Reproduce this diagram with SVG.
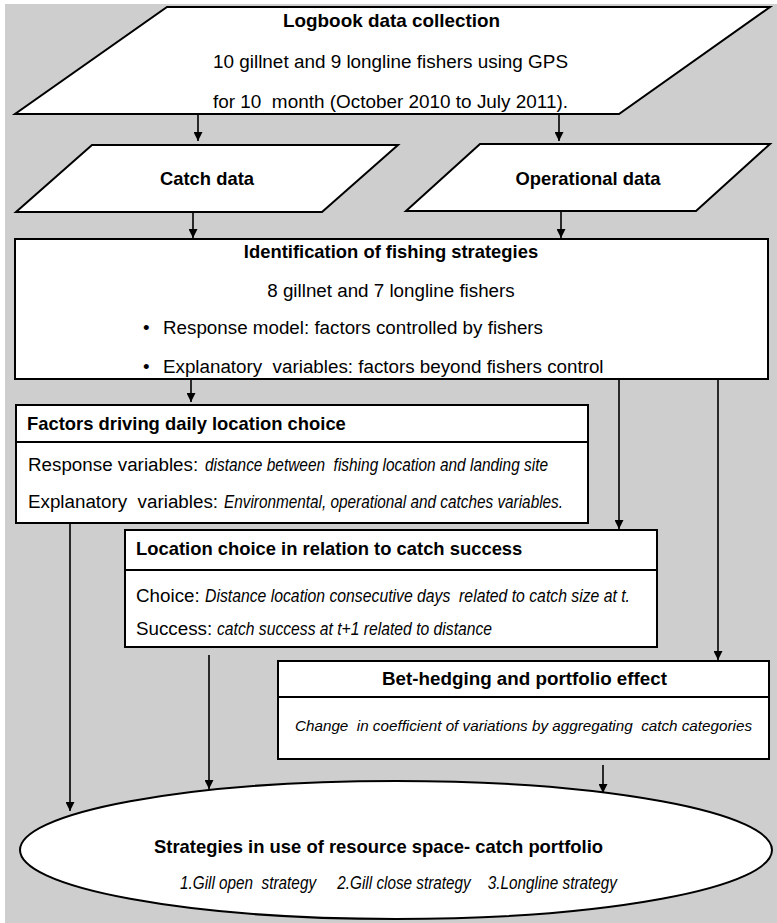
<svg xmlns="http://www.w3.org/2000/svg" width="777" height="923" viewBox="0 0 777 923">
<style>
.bg{fill:#cecece}
.box{fill:#fff;stroke:#000;stroke-width:2}
.ln{fill:none;stroke:#000;stroke-width:1.6;marker-end:url(#ah)}
text{font-family:"Liberation Sans",Arial,sans-serif;font-size:18.8px;fill:#000}
.b{font-weight:bold;font-size:18.4px}
.i{font-style:italic;font-size:18px}
.m{text-anchor:middle}
</style>
<defs>
<marker id="ah" markerUnits="userSpaceOnUse" markerWidth="9" markerHeight="9" refX="9" refY="4.5" orient="auto">
<path d="M0,0 L9,4.5 L0,9 z" fill="#000"/>
</marker>
</defs>
<rect x="0" y="0" width="777" height="923" fill="#fff"/>
<rect class="bg" x="5" y="4" width="772" height="919"/>

<g id="connectors">
<line class="ln" x1="198" y1="114" x2="198" y2="141"/>
<line class="ln" x1="559" y1="114" x2="559" y2="141"/>
<line class="ln" x1="193" y1="212" x2="193" y2="238"/>
<line class="ln" x1="561" y1="211" x2="561" y2="238"/>
<line class="ln" x1="191" y1="379" x2="191" y2="402"/>
<line class="ln" x1="619" y1="379" x2="619" y2="529"/>
<line class="ln" x1="718" y1="376" x2="718" y2="660"/>
<line class="ln" x1="70" y1="523" x2="70" y2="811"/>
<line class="ln" x1="209" y1="655" x2="209" y2="789"/>
<line class="ln" x1="603" y1="765" x2="603" y2="793"/>
</g>

<g id="logbook">
<polygon class="box" points="167,7 770,7 619,114 15,114"/>
<text class="b" x="283" y="27" textLength="217" lengthAdjust="spacingAndGlyphs">Logbook data collection</text>
<text x="213" y="68" textLength="355" lengthAdjust="spacingAndGlyphs">10 gillnet and 9 longline fishers using GPS</text>
<text x="213" y="108" textLength="355" lengthAdjust="spacingAndGlyphs" xml:space="preserve">for 10  month (October 2010 to July 2011).</text>
</g>

<g id="catch">
<polygon class="box" points="92,145 398,145 322,212 16,212"/>
<text class="b m" x="207" y="185">Catch data</text>
</g>

<g id="operational">
<polygon class="box" points="480,144 770,144 696,211 406,211"/>
<text class="b m" x="588" y="185">Operational data</text>
</g>

<g id="identification">
<rect class="box" x="15" y="239" width="753" height="140"/>
<text class="b m" x="391" y="258">Identification of fishing strategies</text>
<text class="m" x="391" y="297">8 gillnet and 7 longline fishers</text>
<text x="143" y="334">•</text>
<text x="163" y="334">Response model: factors controlled by fishers</text>
<text x="143" y="373">•</text>
<text x="163" y="373" xml:space="preserve">Explanatory  variables: factors beyond fishers control</text>
</g>

<g id="factors">
<rect class="box" x="16" y="405" width="572" height="118"/>
<line x1="16" y1="442" x2="588" y2="442" stroke="#000" stroke-width="2"/>
<text class="b" x="27" y="430">Factors driving daily location choice</text>
<text x="28" y="471">Response variables: <tspan class="i" x="205" textLength="343" lengthAdjust="spacingAndGlyphs" xml:space="preserve">distance between  fishing location and landing site</tspan></text>
<text x="28" y="508" xml:space="preserve">Explanatory  variables: <tspan class="i" x="224" textLength="339" lengthAdjust="spacingAndGlyphs">Environmental, operational and catches variables.</tspan></text>
</g>

<g id="location">
<rect class="box" x="125" y="530" width="532" height="117"/>
<line x1="125" y1="570" x2="657" y2="570" stroke="#000" stroke-width="2"/>
<text class="b" x="136" y="555">Location choice in relation to catch success</text>
<text x="136" y="602">Choice: <tspan class="i" x="205" textLength="425" lengthAdjust="spacingAndGlyphs" xml:space="preserve">Distance location consecutive days  related to catch size at t.</tspan></text>
<text x="136" y="635">Success: <tspan class="i" x="217" textLength="275" lengthAdjust="spacingAndGlyphs">catch success at t+1 related to distance</tspan></text>
</g>

<g id="bethedging">
<rect class="box" x="278" y="661" width="491" height="98"/>
<line x1="278" y1="697" x2="769" y2="697" stroke="#000" stroke-width="2"/>
<text class="b m" x="524.5" y="685" textLength="285" lengthAdjust="spacingAndGlyphs">Bet-hedging and portfolio effect</text>
<text class="i" x="295" y="731" style="font-size:15.5px" textLength="457" lengthAdjust="spacingAndGlyphs" xml:space="preserve">Change  in coefficient of variations by aggregating  catch categories</text>
</g>

<g id="strategies">
<ellipse class="box" cx="396" cy="850" rx="376" ry="69"/>
<text class="b" x="154" y="853" textLength="449" lengthAdjust="spacingAndGlyphs">Strategies in use of resource space- catch portfolio</text>
<text class="i" x="180" y="889" textLength="437" lengthAdjust="spacingAndGlyphs" xml:space="preserve">1.Gill open  strategy     2.Gill close strategy    3.Longline strategy</text>
</g>
</svg>
